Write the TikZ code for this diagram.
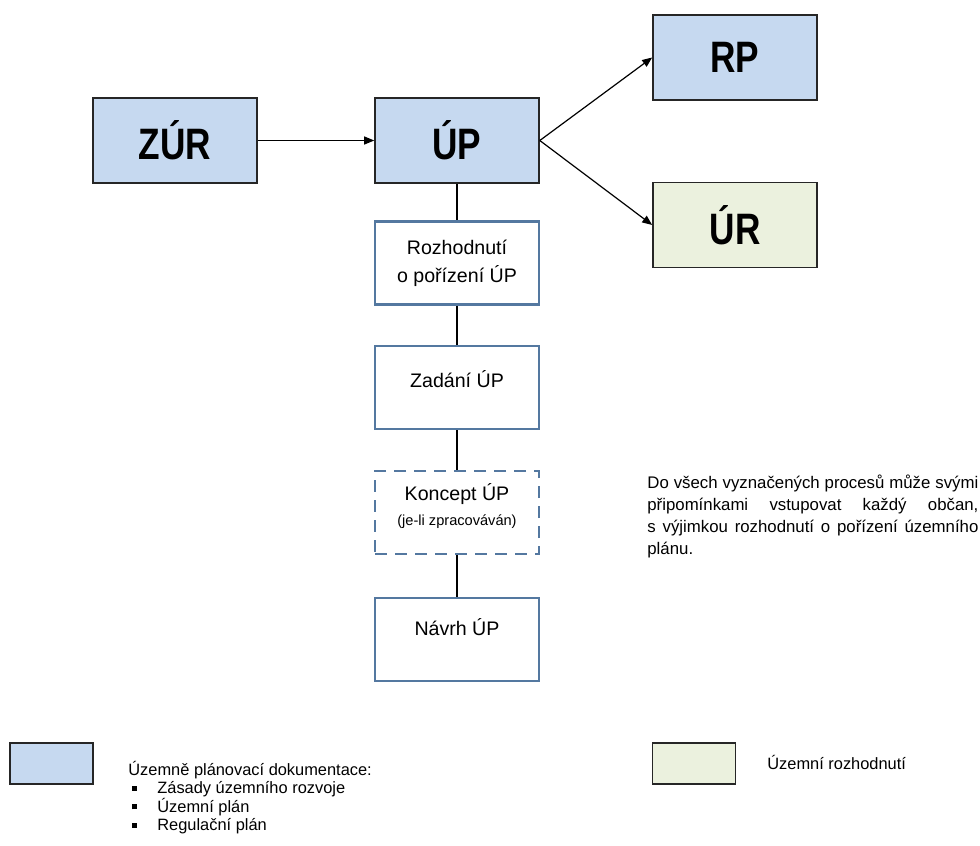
\documentclass[tikz,border=0pt]{standalone}
\usepackage{fontspec}
\setmainfont{Liberation Sans}
\newfontfamily\titlefont[FakeStretch=0.8]{Liberation Sans}
\usetikzlibrary{arrows.meta}

\definecolor{docblue}{RGB}{198,217,240}
\definecolor{decgreen}{RGB}{235,241,222}
\definecolor{procline}{RGB}{84,120,160}

\begin{document}
\begin{tikzpicture}[
    x=0.5pt, y=-0.5pt,
    doc/.style={draw=black!85, fill=docblue, line width=0.8pt, minimum width=82pt, minimum height=42.5pt, font=\titlefont\bfseries\fontsize{22}{26}\selectfont},
    dec/.style={doc, fill=decgreen},
    proc/.style={draw=procline, line width=1.4pt, minimum width=82pt, minimum height=41.5pt, align=center, font=\fontsize{9.8}{14}\selectfont},
    optproc/.style={proc, dash pattern=on 6pt off 4pt},
    legbox/.style={draw=black!85, line width=0.8pt, minimum width=41.5pt, minimum height=20.5pt},
    legtext/.style={anchor=base west, inner sep=0pt, font=\fontsize{8.2}{9}\selectfont},
    link/.style={line width=0.6pt},
    flow/.style={-{Triangle[length=5pt,width=4pt]}, line width=0.6pt}
]
\useasboundingbox (0,0) rectangle (980,846);

% Documents and decisions
\node[doc] (zur) at (175,140.5) {ZÚR};
\node[doc] (up) at (457,140.5) {ÚP};
\node[doc] (rp) at (735,57.5) {RP};
\node[dec] (ur) at (735,225) {ÚR};

% Steps of the plan
\node[proc] (roz) at (457,263) {Rozhodnutí\\o pořízení ÚP};
\node[proc, text depth=9pt] (zad) at (457,387.5) {Zadání ÚP};
\node[optproc, text depth=8pt] (kon) at (457,512.5) {Koncept ÚP\\[-1.5pt]{\fontsize{7.3}{9}\selectfont(je-li zpracováván)}};
\node[proc, text depth=13pt] (nav) at (457,639.5) {Návrh ÚP};

% Edges
\draw[flow] (zur) -- (up);
\draw[flow] (up.east) -- (rp.west);
\draw[flow] (up.east) -- (ur.west);
\draw[link] (up) -- (roz);
\draw[link] (roz) -- (zad);
\draw[link] (zad) -- (kon);
\draw[link] (kon) -- (nav);

% Note
\node[anchor=north west, inner sep=0pt, text width=165.5pt, align=justify, font=\fontsize{8.4}{11}\selectfont] (note) at (647,475)
  {Do všech vyznačených procesů může svými\linebreak připomínkami vstupovat každý občan,\linebreak s výjimkou rozhodnutí o pořízení územního\linebreak plánu.};

% Legend
\node[legbox, fill=docblue] (legdoc) at (51.5,763.5) {};
\node[legtext] (legdoctxt) at (128,775) {Územně plánovací dokumentace:};
\node[legtext] (legitema) at (132,793.5) {\makebox[12.5pt][l]{\rule[1.3pt]{2.5pt}{2.5pt}}Zásady územního rozvoje};
\node[legtext] (legitemb) at (132,812) {\makebox[12.5pt][l]{\rule[1.3pt]{2.5pt}{2.5pt}}Územní plán};
\node[legtext] (legitemc) at (132,830.5) {\makebox[12.5pt][l]{\rule[1.3pt]{2.5pt}{2.5pt}}Regulační plán};
\node[legbox, fill=decgreen] (legdec) at (694,763.5) {};
\node[legtext] (legdectxt) at (767,769) {Územní rozhodnutí};

\end{tikzpicture}
\end{document}
